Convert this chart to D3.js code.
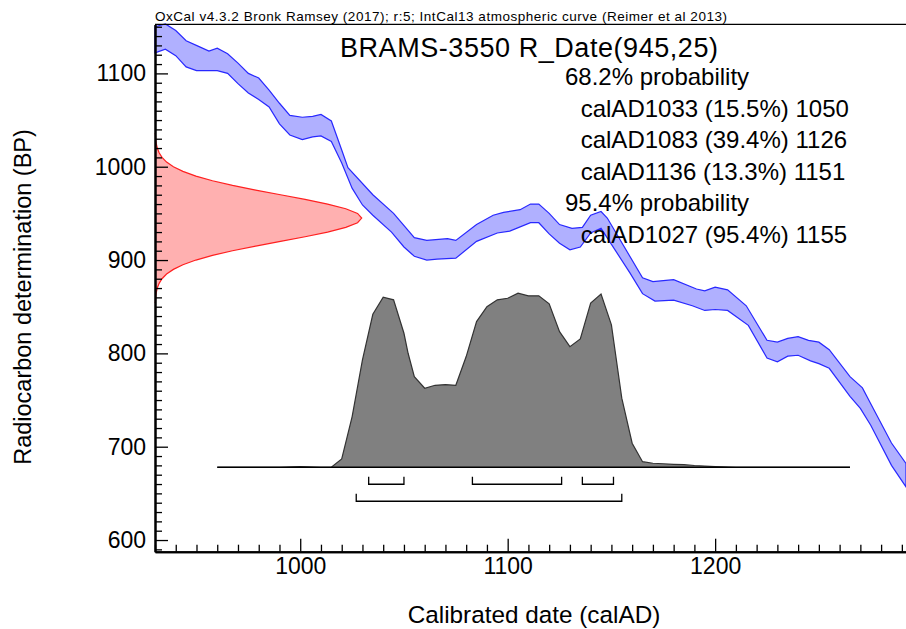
<!DOCTYPE html>
<html>
<head>
<meta charset="utf-8">
<script src="https://cdn.jsdelivr.net/npm/d3@7"></script>
<style>
  body { margin: 0; background: #fff; }
  text { font-family: "Liberation Sans", Arial, sans-serif; fill: #000; }
</style>
</head>
<body>
<svg id="chart" width="906" height="629"></svg>
<script>
var header = "OxCal v4.3.2 Bronk Ramsey (2017); r:5; IntCal13 atmospheric curve (Reimer et al 2013)"
var title = "BRAMS-3550 R_Date(945,25)"
var rangeText = [
    "68.2% probability",
    "calAD1033 (15.5%) 1050",
    "calAD1083 (39.4%) 1126",
    "calAD1136 (13.3%) 1151",
    "95.4% probability",
    "calAD1027 (95.4%) 1155"
]
var xLabel = "Calibrated date (calAD)"
var yLabel = "Radiocarbon determination (BP)"

var xMajor = [1000, 1100, 1200]
var yMajor = [600, 700, 800, 900, 1000, 1100]

// calibration curve band, [calAD, BP]
var curveUpper = [
    [930, 1150], [935, 1153], [940, 1146], [945, 1135], [951, 1129], [956, 1124], [960, 1127],
    [965, 1121], [970, 1111], [975, 1100], [980, 1095], [985, 1082], [990, 1068], [995, 1055],
    [1001, 1053], [1006, 1054], [1010, 1056], [1015, 1049], [1020, 1018], [1023, 999], [1035, 970],
    [1045, 950], [1055, 924], [1061, 921], [1071, 923], [1075, 921], [1085, 938], [1093, 948],
    [1098, 951], [1106, 954], [1111, 960], [1115, 960], [1120, 950], [1125, 938], [1131, 934],
    [1136, 935], [1140, 948], [1145, 952], [1148, 945], [1165, 881], [1170, 877], [1180, 879],
    [1191, 869], [1195, 867], [1200, 871], [1206, 868], [1215, 851], [1225, 814], [1230, 812],
    [1235, 816], [1240, 818], [1245, 814], [1250, 812], [1255, 804], [1265, 775], [1271, 763],
    [1275, 746], [1285, 704], [1292, 682]
]
var curveLower = [
    [930, 1122], [935, 1126], [940, 1119], [945, 1107], [950, 1103], [960, 1103], [965, 1100],
    [970, 1089], [975, 1079], [980, 1072], [985, 1064], [990, 1046], [995, 1034], [1001, 1029],
    [1006, 1032], [1010, 1033], [1015, 1027], [1020, 1004], [1025, 977], [1030, 959], [1035, 948],
    [1044, 930], [1050, 914], [1055, 904], [1061, 900], [1066, 901], [1075, 902], [1085, 920],
    [1095, 929], [1101, 931], [1111, 940], [1115, 940], [1120, 928], [1125, 918], [1130, 911],
    [1135, 914], [1140, 929], [1145, 934], [1159, 886], [1165, 864], [1171, 856], [1180, 857],
    [1189, 851], [1195, 846], [1200, 847], [1206, 846], [1216, 830], [1225, 795], [1230, 791],
    [1235, 797], [1240, 798], [1246, 792], [1250, 789], [1255, 784], [1265, 754], [1270, 741],
    [1275, 723], [1285, 680], [1292, 657]
]

// radiocarbon measurement density, [BP, relative density]
var dateDensity = [
    [854, 0], [855, 0.002], [860, 0.003], [865, 0.006], [870, 0.011], [875, 0.020], [880, 0.034],
    [885, 0.056], [890, 0.089], [895, 0.135], [900, 0.198], [905, 0.278], [910, 0.375],
    [915, 0.487], [920, 0.607], [925, 0.726], [930, 0.835], [935, 0.923], [940, 0.980],
    [945, 1.0], [950, 0.980], [955, 0.923], [960, 0.835], [965, 0.726], [970, 0.607],
    [975, 0.487], [980, 0.375], [985, 0.278], [990, 0.198], [995, 0.135], [1000, 0.089],
    [1005, 0.056], [1010, 0.034], [1015, 0.020], [1020, 0.011], [1025, 0.006], [1030, 0.003],
    [1035, 0.002], [1036, 0]
]

// calibrated probability, [calAD, relative probability]
var calProb = [
    [960, 0], [990, 0], [1000, 0.004], [1010, 0], [1015, 0], [1020, 0.048], [1025, 0.29],
    [1030, 0.617], [1035, 0.879], [1040, 0.977], [1045, 0.962], [1050, 0.77], [1052, 0.655],
    [1055, 0.52], [1060, 0.454], [1065, 0.471], [1070, 0.475], [1075, 0.471], [1080, 0.636],
    [1085, 0.837], [1090, 0.923], [1095, 0.962], [1100, 0.971], [1105, 1.0], [1110, 0.985],
    [1115, 0.985], [1120, 0.939], [1125, 0.779], [1130, 0.693], [1135, 0.737], [1140, 0.943],
    [1145, 0.996], [1150, 0.818], [1155, 0.397], [1160, 0.138], [1165, 0.032], [1170, 0.023],
    [1175, 0.02], [1180, 0.017], [1185, 0.015], [1190, 0.01], [1200, 0.004], [1210, 0], [1265, 0]
]

var ranges68 = [[1033, 1050], [1083, 1126], [1136, 1151]]
var ranges95 = [[1027, 1155]]

var svg = d3.select('#chart')

var x = d3.scaleLinear().domain([930, 1292]).range([155, 906])
var y = d3.scaleLinear().domain([587.5, 1152.5]).range([551.7, 24.4])

var plot = svg.append('g')

// curve band
var band = curveUpper.concat(curveLower.slice().reverse())
plot.append('path')
    .attr('d', d3.line().x(function(d) { return x(d[0]) }).y(function(d) { return y(d[1]) })(band) + 'Z')
    .attr('fill', '#b0b0ff')
    .attr('stroke', '#2828ff')
    .attr('stroke-width', 1.2)

// measurement on the y axis
var denX = d3.scaleLinear().domain([0, 1]).range([155, 361.7])
plot.append('path')
    .attr('d', d3.area()
        .y(function(d) { return y(d[0]) })
        .x0(155)
        .x1(function(d) { return denX(d[1]) })(dateDensity))
    .attr('fill', '#ffb0b0')
    .attr('stroke', 'none')
plot.append('path')
    .attr('d', d3.line()
        .y(function(d) { return y(d[0]) })
        .x(function(d) { return denX(d[1]) })(dateDensity))
    .attr('fill', 'none')
    .attr('stroke', '#ff2020')
    .attr('stroke-width', 1.2)

// calibrated distribution
var baseY = y(678)
var p = d3.scaleLinear().domain([0, 1]).range([baseY, baseY - 174])
plot.append('path')
    .attr('d', d3.area()
        .x(function(d) { return x(d[0]) })
        .y0(baseY)
        .y1(function(d) { return p(d[1]) })(calProb))
    .attr('fill', '#808080')
plot.append('path')
    .attr('d', d3.line()
        .x(function(d) { return x(d[0]) })
        .y(function(d) { return p(d[1]) })(calProb))
    .attr('fill', 'none')
    .attr('stroke', '#333')
    .attr('stroke-width', 1.2)
plot.append('line')
    .attr('x1', x(calProb[0][0])).attr('x2', x(calProb[calProb.length - 1][0]))
    .attr('y1', baseY).attr('y2', baseY)
    .attr('stroke', '#000').attr('stroke-width', 1.5)

// range brackets
function brackets(list, yy) {
    plot.selectAll(null)
        .data(list)
        .enter()
        .append('path')
        .attr('d', function(d) {
            return 'M' + x(d[0]) + ',' + (yy - 7.5) + 'V' + yy + 'H' + x(d[1]) + 'V' + (yy - 7.5)
        })
        .attr('fill', 'none')
        .attr('stroke', '#000')
        .attr('stroke-width', 1.3)
}
brackets(ranges68, baseY + 17)
brackets(ranges95, baseY + 34)

// axes
var minorX = d3.range(930, 1300, 10).filter(function(v) { return xMajor.indexOf(v) < 0 })
var minorY = d3.range(590, 1160, 10).filter(function(v) { return yMajor.indexOf(v) < 0 })

var gx = svg.append('g').attr('transform', 'translate(0,551.7)')
gx.append('g').call(d3.axisBottom(x).tickValues(minorX).tickSize(-7).tickSizeOuter(0).tickFormat(''))
gx.append('g').call(d3.axisBottom(x).tickValues(xMajor).tickSize(-13).tickSizeOuter(0).tickPadding(5.5).tickFormat(d3.format('d')))

var gy = svg.append('g').attr('transform', 'translate(155,0)')
gy.append('g').call(d3.axisLeft(y).tickValues(minorY).tickSize(-7).tickSizeOuter(0).tickFormat(''))
gy.append('g').call(d3.axisLeft(y).tickValues(yMajor).tickSize(-13).tickSizeOuter(0).tickPadding(9).tickFormat(d3.format('d')))

svg.selectAll('.tick line').attr('stroke', '#000').attr('stroke-width', 1.3)
svg.selectAll('.tick text').style('font-size', '23px').attr('fill', '#000')
svg.selectAll('.domain').attr('stroke', '#000').attr('stroke-width', 2)

// top frame line
svg.append('line')
    .attr('x1', 155).attr('x2', 906).attr('y1', 24.4).attr('y2', 24.4)
    .attr('stroke', '#000').attr('stroke-width', 1.3)

// texts
svg.append('text').attr('x', 155).attr('y', 21).style('font-size', '13.5px')
    .attr('textLength', 572).attr('lengthAdjust', 'spacing').text(header)
svg.append('text').attr('x', 340).attr('y', 56.5).style('font-size', '27px')
    .attr('textLength', 378).attr('lengthAdjust', 'spacing').text(title)

svg.selectAll('.range-text')
    .data(rangeText)
    .enter()
    .append('text')
    .attr('class', 'range-text')
    .attr('x', function(d) { return d.indexOf('calAD') === 0 ? 580.7 : 565 })
    .attr('y', function(d, i) { return 85 + i * 31.5 })
    .style('font-size', '24px')
    .text(function(d) { return d })

svg.append('text')
    .attr('x', 534).attr('y', 623)
    .attr('text-anchor', 'middle')
    .style('font-size', '24.3px')
    .text(xLabel)

svg.append('text')
    .attr('transform', 'translate(31,297) rotate(-90)')
    .attr('text-anchor', 'middle')
    .style('font-size', '23.5px')
    .text(yLabel)
</script>
</body>
</html>
